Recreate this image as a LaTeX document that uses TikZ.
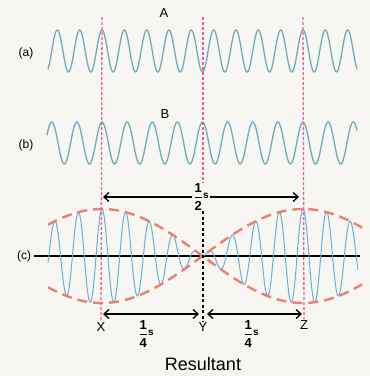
\documentclass[tikz,border=0pt]{standalone}
\usepackage{amsmath}
\usepackage{fontspec}
\setmainfont{Liberation Sans}
\usepackage{xcolor}
\usepackage{tikz}
\usetikzlibrary{arrows.meta, positioning, calc}
\definecolor{paper}{RGB}{247,246,243}
\definecolor{wavegray}{RGB}{112,172,184}
\definecolor{waveblue}{RGB}{104,176,212}
\definecolor{envred}{RGB}{234,128,112}
\definecolor{guidepink}{RGB}{228,96,156}
\newcommand{\halves}[1]{$\displaystyle\genfrac{}{}{1pt}{0}{\mbox{\bfseries 1}}{\mbox{\bfseries #1}}$\raisebox{2pt}{\fontsize{10}{10}\selectfont\bfseries s}}

\begin{document}
\begin{tikzpicture}[
    x=1pt, y=-1pt,
    wave/.style={draw=wavegray, line width=1.3pt},
    beat/.style={draw=waveblue, line width=1pt},
    env/.style={draw=envred, line width=2.4pt, dash pattern=on 10pt off 6pt},
    guide/.style={draw=guidepink, line width=1.3pt, dash pattern=on 3pt off 2pt},
    yline/.style={draw=black, line width=1.2pt, dash pattern=on 3pt off 2.5pt},
    dim/.style={{Straight Barb[length=5pt,width=9pt]}-{Straight Barb[length=5pt,width=9pt]}, line width=1.3pt},
    tag/.style={font=\fontsize{12}{12}\selectfont, inner sep=1pt},
    letter/.style={font=\fontsize{13}{13}\selectfont, inner sep=1pt},
    frac/.style={font=\fontsize{13}{13}\selectfont, inner sep=1pt}
]

% Paper
\fill[paper] (0,0) rectangle (370,376);

% Row labels
\node[tag] (rowa) at (26,53) {(a)};
\node[tag] (rowb) at (26,145) {(b)};
\node[tag] (rowc) at (24,256) {(c)};
\node[letter] (nameA) at (164,13) {A};
\node[letter] (nameB) at (165,114) {B};

% Waves A and B
\draw[wave] plot[domain=48:357, samples=500, smooth] (\x, {51 - 21*cos(16.1197*(\x-102))});
\draw[wave] plot[domain=47:357, samples=500, smooth] (\x, {143 - 21*cos(14.3284*(\x-102))});

% Resultant
\draw[line width=1.3pt] (rowc.east) ++(2,0) coordinate (axisL) -- (360,256) coordinate (axisR);
\draw[beat] plot[domain=48:358, samples=900, smooth] (\x, {256 - 47*cos(0.89552*(\x-102))*cos(15.2239*(\x-102))});
\draw[env] plot[domain=48:362, samples=120, smooth] (\x, {256 - 47*cos(0.89552*(\x-102))});
\draw[env] plot[domain=48:362, samples=120, smooth] (\x, {256 + 47*cos(0.89552*(\x-102))});

% Guide lines
\coordinate (Xtop) at (102,17);
\coordinate (Ytop) at (203,17);
\coordinate (Ztop) at (303,17);
\node[letter] (X) at (101,327) {X};
\node[letter] (Y) at (203,327) {Y};
\node[letter] (Z) at (304,325) {Z};
\draw[guide] (Xtop) -- (X.north);
\draw[guide] (Ztop) -- (Z.north);
\draw[guide] (Ytop) -- (203,185);
\draw[yline] (203,211) -- (Y.north);

% Time spans
\coordinate (halfL) at (103,197);
\coordinate (halfR) at (299,197);
\draw[dim] (halfL) -- (halfR)
  node[midway, frac, fill=paper] (half) {\halves{2}};
\coordinate (qL) at (103,314);
\coordinate (qM1) at (199,314);
\coordinate (qM2) at (207,314);
\coordinate (qR) at (302,314);
\draw[dim] (qL) -- (qM1);
\draw[dim] (qM2) -- (qR);
\node[frac] (quart1) at (146,334) {\halves{4}};
\node[frac] (quart2) at (251,334) {\halves{4}};

\node[font=\fontsize{18}{18}\selectfont] (res) at (203,364) {Resultant};

\end{tikzpicture}
\end{document}
